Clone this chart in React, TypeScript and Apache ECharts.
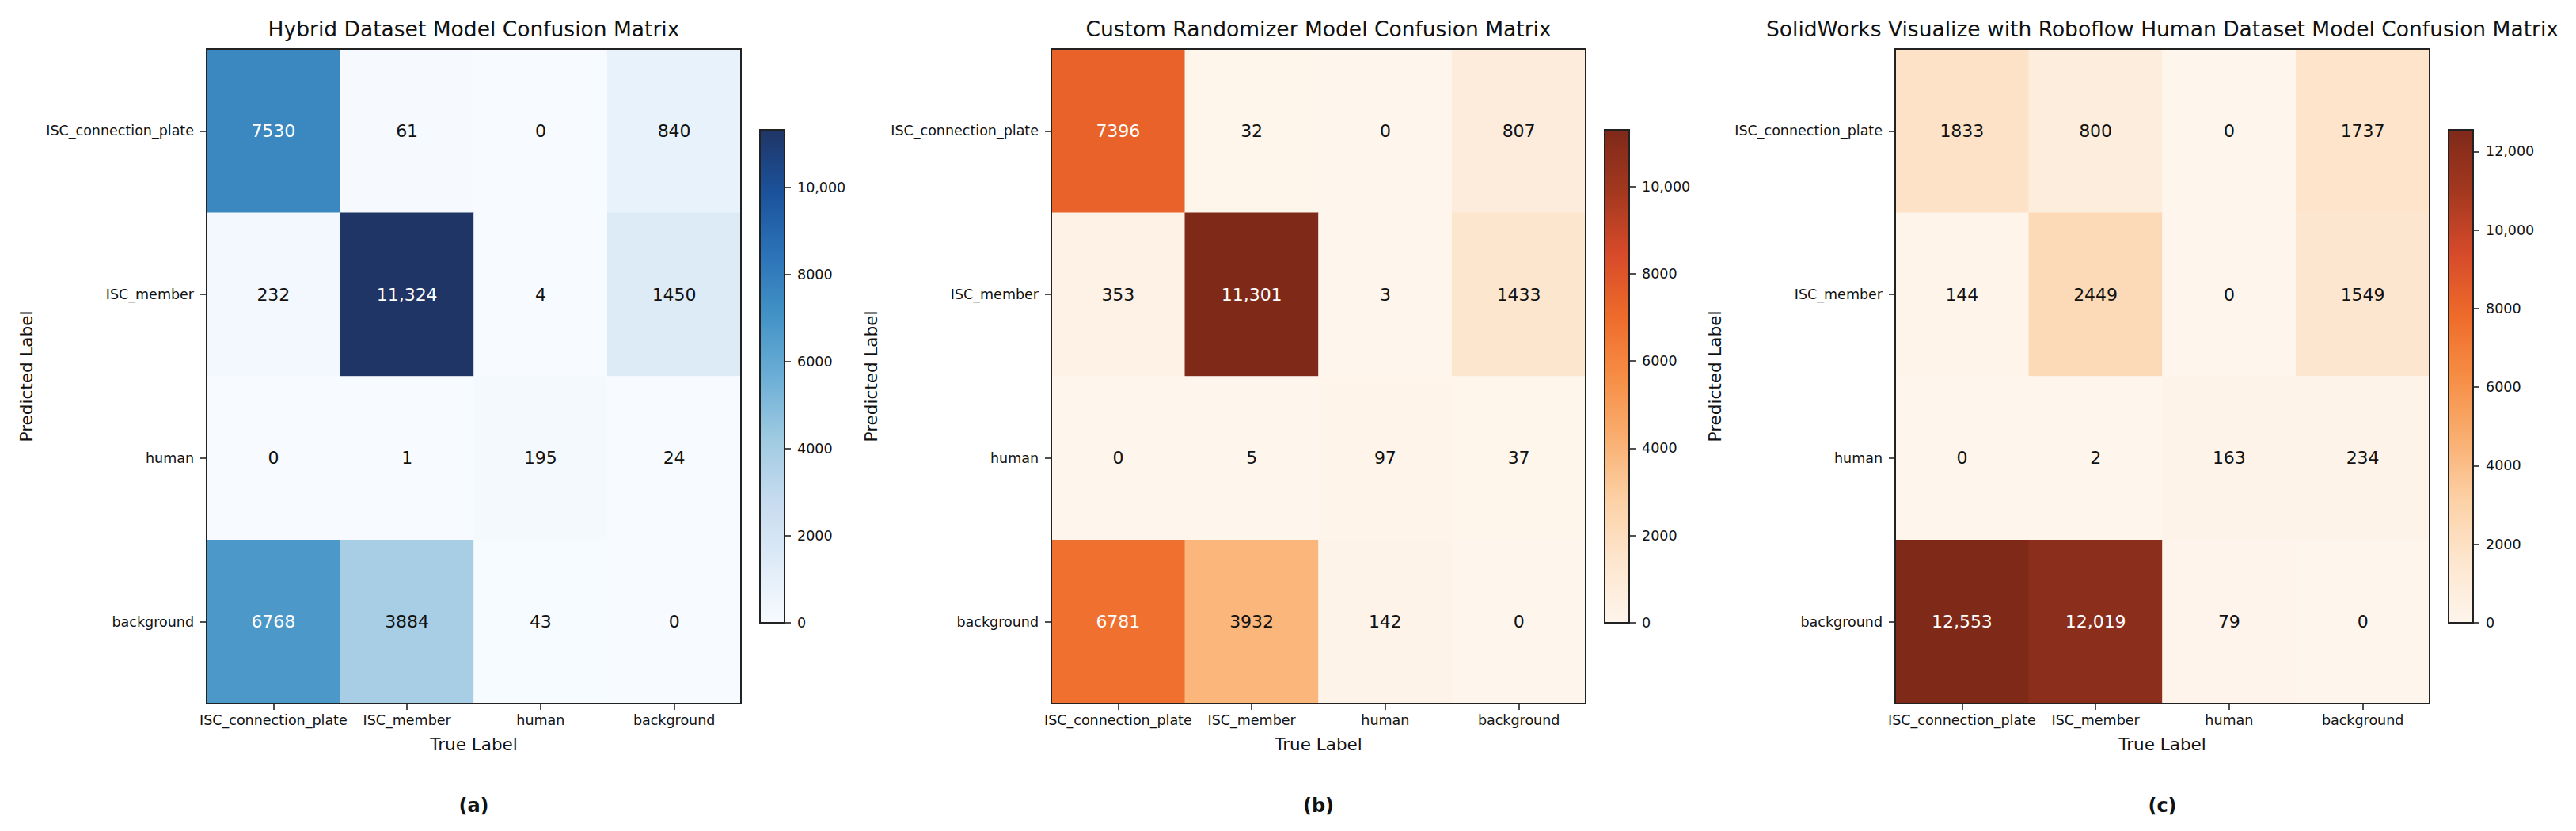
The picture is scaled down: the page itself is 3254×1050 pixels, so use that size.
import React, { useEffect, useRef } from "react";
import * as echarts from "echarts";

const CATEGORIES = ["ISC_connection_plate", "ISC_member", "human", "background"];

// rows = predicted label (top to bottom), columns = true label (left to right)
const HYBRID = [
  [7530, 61, 0, 840],
  [232, 11324, 4, 1450],
  [0, 1, 195, 24],
  [6768, 3884, 43, 0],
];
const CUSTOM = [
  [7396, 32, 0, 807],
  [353, 11301, 3, 1433],
  [0, 5, 97, 37],
  [6781, 3932, 142, 0],
];
const SOLIDWORKS = [
  [1833, 800, 0, 1737],
  [144, 2449, 0, 1549],
  [0, 2, 163, 234],
  [12553, 12019, 79, 0],
];

const TITLES = [
  "Hybrid Dataset Model Confusion Matrix",
  "Custom Randomizer Model Confusion Matrix",
  "SolidWorks Visualize with Roboflow Human Dataset Model Confusion Matrix",
];
const CAPTIONS = ["(a)", "(b)", "(c)"];

const CBAR_TICKS_AB = [0, 2000, 4000, 6000, 8000, 10000];
const CBAR_TICKS_C = [0, 2000, 4000, 6000, 8000, 10000, 12000];

// colormap stops as they appear in the reference picture (Blues / Oranges)
const BLUES = ["#f7fbff", "#deebf7", "#c6dbef", "#9ecae1", "#6baed6", "#4292c6", "#2b72b6", "#1b529a", "#1f3566"];
const ORANGES = ["#fef5ec", "#fde6cf", "#fcd1a5", "#f9ae70", "#f68d45", "#ee6a2a", "#d64a2a", "#a3381f", "#7f2919"];

const FONT = "DejaVu Sans";
const INK = "#111111";
const FRAME = "#222222";

function fmt(v: number): string {
  if (Math.abs(v) >= 10000) return String(v).replace(/\B(?=(\d{3})+(?!\d))/g, ",");
  return String(v);
}

export default function App() {
  const ref = useRef<HTMLDivElement>(null);

  useEffect(() => {
    document.body.style.margin = "0";
    document.body.style.overflow = "hidden";
    if (!ref.current) return;
    const chart = echarts.init(ref.current, undefined, { renderer: "svg" });

    const panels = [
      { data: HYBRID, cmap: BLUES, ticks: CBAR_TICKS_AB },
      { data: CUSTOM, cmap: ORANGES, ticks: CBAR_TICKS_AB },
      { data: SOLIDWORKS, cmap: ORANGES, ticks: CBAR_TICKS_C },
    ];
    const frameLefts = [261, 1328, 2394];
    const frameTop = 62;
    const frameW = 675;
    const frameH = 827;

    const grid: any[] = [];
    const xAxis: any[] = [];
    const yAxis: any[] = [];
    const series: any[] = [];
    const visualMap: any[] = [];
    const graphic: any[] = [];

    panels.forEach((p, i) => {
      const L = frameLefts[i];
      const maxVal = Math.max(...p.data.flat());
      const gi = grid.length;
      grid.push({
        left: L, top: frameTop, width: frameW, height: frameH,
        show: true, borderColor: FRAME, borderWidth: 2, backgroundColor: "transparent", z: 10,
      });
      grid.push({
        left: L + 699, top: 164, width: 31, height: 623,
        show: true, borderColor: FRAME, borderWidth: 2, backgroundColor: "transparent", z: 10,
      });

      const tickStyle = { show: true, length: 8, lineStyle: { color: FRAME, width: 1.6 } };
      const labelStyle = { fontFamily: FONT, fontSize: 17.5, color: INK };

      xAxis.push({
        type: "category", gridIndex: gi, data: CATEGORIES, position: "bottom",
        axisLine: { show: false },
        axisTick: { ...tickStyle, alignWithLabel: true },
        axisLabel: { ...labelStyle, margin: 12, interval: 0, hideOverlap: false },
        splitLine: { show: false },
        name: "True Label", nameLocation: "middle", nameGap: 40,
        nameTextStyle: { fontFamily: FONT, fontSize: 21.5, color: INK },
      });
      yAxis.push({
        type: "category", gridIndex: gi, data: CATEGORIES, inverse: true,
        axisLine: { show: false },
        axisTick: { ...tickStyle, alignWithLabel: true },
        axisLabel: { ...labelStyle, margin: 16, interval: 0 },
        splitLine: { show: false },
        name: "Predicted Label", nameLocation: "middle", nameGap: 217, nameRotate: 90,
        nameTextStyle: { fontFamily: FONT, fontSize: 21.5, color: INK },
      });
      xAxis.push({ type: "category", gridIndex: gi + 1, data: [""], show: false });
      yAxis.push({
        type: "value", gridIndex: gi + 1, position: "right", min: 0, max: maxVal,
        axisLine: { show: false },
        axisTick: { ...tickStyle, customValues: p.ticks },
        axisLabel: { ...labelStyle, margin: 16, customValues: p.ticks, formatter: (v: number) => fmt(v) },
        splitLine: { show: false },
      });

      const heatData: any[] = [];
      p.data.forEach((row, r) => {
        row.forEach((v, c) => {
          heatData.push({
            value: [c, r, v],
            label: { color: v > maxVal / 2 ? "#ffffff" : INK },
          });
        });
      });
      const si = series.length;
      series.push({
        type: "heatmap", xAxisIndex: gi, yAxisIndex: gi, data: heatData,
        label: {
          show: true, fontFamily: FONT, fontSize: 22,
          formatter: (q: any) => fmt(q.value[2]),
        },
        itemStyle: { borderWidth: 0 },
        emphasis: { disabled: true },
        silent: true,
      });
      visualMap.push({
        type: "continuous", show: false, seriesIndex: si, min: 0, max: maxVal,
        dimension: 2, inRange: { color: p.cmap },
      });
      const stops = p.cmap.map((c, k) => ({ offset: k / (p.cmap.length - 1), color: c }));
      series.push({
        type: "bar", xAxisIndex: gi + 1, yAxisIndex: gi + 1, data: [maxVal], barWidth: "100%",
        itemStyle: { color: new echarts.graphic.LinearGradient(0, 1, 0, 0, stops) },
        silent: true,
      });

      graphic.push({
        type: "text", x: L + frameW / 2, y: 36,
        style: { text: TITLES[i], font: `26.5px "${FONT}"`, fill: INK, textAlign: "center", textVerticalAlign: "middle" },
      });
      graphic.push({
        type: "text", x: L + frameW / 2, y: 1018,
        style: { text: CAPTIONS[i], font: `bold 24px "${FONT}"`, fill: INK, textAlign: "center", textVerticalAlign: "middle" },
      });
    });

    chart.setOption({
      animation: false,
      backgroundColor: "#ffffff",
      textStyle: { fontFamily: FONT },
      grid, xAxis, yAxis, series, visualMap, graphic,
    });

    return () => chart.dispose();
  }, []);

  return (
    <div
      ref={ref}
      style={{ position: "absolute", left: 0, top: 0, width: 3254, height: 1050 }}
    />
  );
}
